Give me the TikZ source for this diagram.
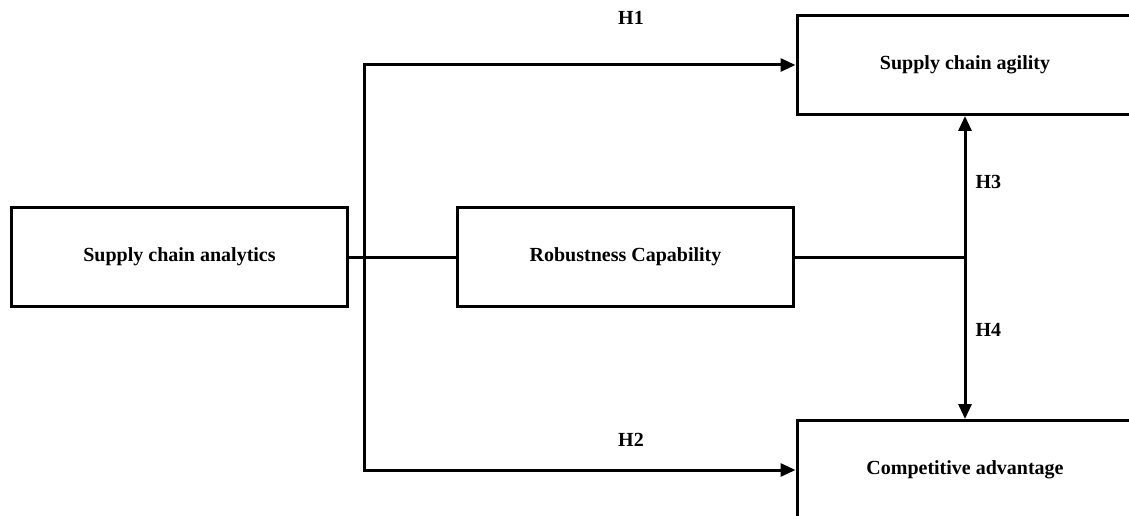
\documentclass[tikz,border=0pt]{standalone}
\usepackage{fontspec}
\setmainfont{Liberation Serif}
\usetikzlibrary{positioning,arrows.meta,calc}

\begin{document}
\begin{tikzpicture}[
    x=1pt, y=-1pt,
    line width=3pt,
    var box/.style={rectangle, draw=black, line width=3pt, minimum width=336pt, minimum height=99pt, font=\fontsize{20}{24}\selectfont\bfseries},
    hyp note/.style={font=\fontsize{20}{24}\selectfont\bfseries, inner sep=0pt},
    >={Triangle[length=15pt, width=13pt]}
]
  \clip (0,0) rectangle (1129,516);
  \fill[white] (0,0) rectangle (1129,516);

  \node[var box] (sca) at (179.5,257) {Supply chain analytics};
  \node[var box] (rob) at (625.5,257) {Robustness Capability};
  \node[var box] (agi) at (965,65) {Supply chain agility};
  \node[var box] (cad) at (965,470) {Competitive advantage};

  \coordinate (fork) at (364,257);
  \coordinate (meet) at (agi.south |- rob.east);

  \draw (sca.east) -- (rob.west);
  \draw (rob.east) -- (meet);
  \draw[->] (fork) |- (agi.west);
  \draw[->] (fork) |- (cad.west);
  \draw[<->] (agi.south) -- (cad.north);

  \node[hyp note] (h1) at (631,18) {H1};
  \node[hyp note] (h2) at (631,440) {H2};
  \node[hyp note, anchor=west] (h3) at (974,182) {H3};
  \node[hyp note, anchor=west] (h4) at (974,330) {H4};
\end{tikzpicture}
\end{document}
